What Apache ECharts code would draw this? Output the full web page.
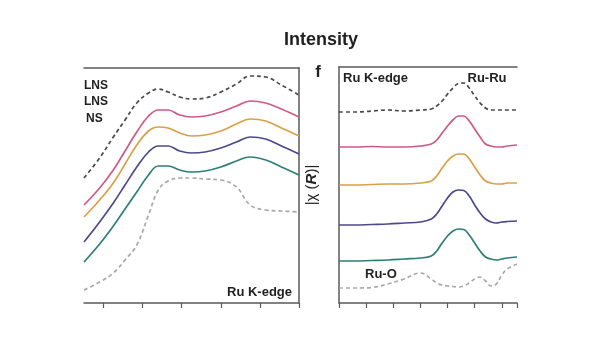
<!DOCTYPE html>
<html>
<head>
<meta charset="utf-8">
<script src="https://cdn.jsdelivr.net/npm/echarts@6/dist/echarts.min.js"></script>
<style>
html,body{margin:0;padding:0;background:#fff;}
#c{width:600px;height:338px;}
</style>
</head>
<body>
<div id="c"></div>
<script>
// ---- Panel e (XANES, Ru K-edge): energy (eV) vs normalized intensity (offset) ----
const energy = [22110, 22118, 22125, 22131, 22137, 22143, 22148, 22153, 22159, 22165, 22172, 22180, 22188, 22195, 22203, 22211, 22220];
const xanesRefTop   = [1.25, 1.45, 1.66, 1.83, 2.00, 2.10, 2.14, 2.11, 2.06, 2.04, 2.05, 2.11, 2.19, 2.27, 2.26, 2.18, 2.08];
const xanesPink     = [0.98, 1.15, 1.33, 1.52, 1.71, 1.87, 1.93, 1.93, 1.88, 1.86, 1.87, 1.91, 1.97, 2.02, 2.00, 1.94, 1.86];
const xanesOrange   = [0.86, 1.03, 1.20, 1.39, 1.58, 1.72, 1.76, 1.75, 1.70, 1.67, 1.68, 1.72, 1.79, 1.84, 1.82, 1.75, 1.67];
const xanesPurple   = [0.61, 0.81, 1.00, 1.18, 1.36, 1.51, 1.57, 1.57, 1.52, 1.50, 1.51, 1.55, 1.61, 1.66, 1.64, 1.57, 1.49];
const xanesTeal     = [0.41, 0.59, 0.77, 0.94, 1.11, 1.28, 1.37, 1.37, 1.33, 1.31, 1.32, 1.36, 1.42, 1.46, 1.43, 1.36, 1.28];
const xanesRefBot   = [0.13, 0.21, 0.30, 0.43, 0.58, 0.88, 1.13, 1.22, 1.25, 1.25, 1.24, 1.23, 1.16, 0.98, 0.93, 0.92, 0.91];
const xanesTicks    = [22120, 22140, 22160, 22180, 22200, 22220];
const legendLabels  = ['LNS', 'LNS', 'NS'];

// ---- Panel f (EXAFS, |chi(R)|): R (Å) vs magnitude (offset) ----
const rValues     = [0, 0.3, 0.6, 0.9, 1.2, 1.5, 1.7, 1.8, 1.9, 2.0, 2.1, 2.2, 2.3, 2.4, 2.5, 2.6, 2.7, 2.8, 2.9, 3.0, 3.1, 3.28];
const exafsRefTop = [1.91, 1.91, 1.92, 1.93, 1.92, 1.93, 1.94, 1.97, 2.02, 2.09, 2.15, 2.195, 2.20, 2.15, 2.07, 2.00, 1.95, 1.93, 1.93, 1.93, 1.93, 1.93];
const exafsPink   = [1.56, 1.56, 1.565, 1.56, 1.56, 1.57, 1.59, 1.63, 1.70, 1.77, 1.83, 1.87, 1.87, 1.82, 1.74, 1.66, 1.59, 1.57, 1.56, 1.56, 1.57, 1.58];
const exafsOrange = [1.18, 1.18, 1.185, 1.19, 1.19, 1.20, 1.22, 1.27, 1.35, 1.42, 1.47, 1.49, 1.49, 1.44, 1.36, 1.28, 1.22, 1.20, 1.19, 1.19, 1.20, 1.20];
const exafsPurple = [0.78, 0.78, 0.785, 0.79, 0.80, 0.81, 0.84, 0.89, 0.97, 1.05, 1.11, 1.13, 1.125, 1.07, 0.98, 0.90, 0.84, 0.81, 0.80, 0.81, 0.815, 0.82];
const exafsTeal   = [0.42, 0.42, 0.425, 0.43, 0.44, 0.45, 0.47, 0.52, 0.60, 0.67, 0.72, 0.74, 0.735, 0.68, 0.60, 0.52, 0.46, 0.44, 0.43, 0.44, 0.45, 0.46];
const exafsRefBot = [0.15, 0.15, 0.155, 0.19, 0.24, 0.30, 0.24, 0.20, 0.18, 0.17, 0.165, 0.16, 0.17, 0.20, 0.24, 0.26, 0.22, 0.17, 0.19, 0.28, 0.34, 0.39];

const pair = (xs, ys) => xs.map((x, i) => [x, ys[i]]);

const colors = {
  refTop: '#4a4a4a', pink: '#cf5a86', orange: '#d9a04a', purple: '#4d4a8a', teal: '#2f7f77', refBot: '#a8a8a8'
};
const axisColor = '#5a5a5a';
const textColor = '#222';
const font = 'Liberation Sans, Arial, sans-serif';

function line(name, xIdx, yIdx, data, color, dashed) {
  return {
    name, type: 'line', xAxisIndex: xIdx, yAxisIndex: yIdx, data,
    smooth: 0.4, showSymbol: false, symbol: 'none', clip: true,
    lineStyle: { color, width: 1.7, type: dashed ? [4, 3] : 'solid' },
    emphasis: { disabled: true }, silent: true
  };
}

const chart = echarts.init(document.getElementById('c'), null, { renderer: 'canvas' });
chart.setOption({
  animation: false,
  backgroundColor: '#fff',
  textStyle: { fontFamily: font },
  grid: [
    { left: 84, top: 68, width: 215, height: 235 },
    { left: 339, top: 67, width: 178, height: 236 }
  ],
  xAxis: [
    { type: 'value', gridIndex: 0, min: 22110, max: 22220,
      axisLine: { show: true, onZero: false, lineStyle: { color: axisColor, width: 1.5 } },
      axisTick: { show: true, customValues: xanesTicks, length: 5, lineStyle: { color: axisColor, width: 1.2 } },
      axisLabel: { show: false }, splitLine: { show: false } },
    { type: 'value', gridIndex: 1, min: 0, max: 3.28, interval: 0.5,
      axisLine: { show: true, onZero: false, lineStyle: { color: axisColor, width: 1.5 } },
      axisTick: { show: true, length: 5, lineStyle: { color: axisColor, width: 1.2 } },
      axisLabel: { show: false }, splitLine: { show: false } },
    { type: 'value', gridIndex: 0, position: 'top', min: 22110, max: 22220,
      axisLine: { show: true, onZero: false, lineStyle: { color: axisColor, width: 1.5 } },
      axisTick: { show: false }, axisLabel: { show: false }, splitLine: { show: false } },
    { type: 'value', gridIndex: 1, position: 'top', min: 0, max: 3.28,
      axisLine: { show: true, onZero: false, lineStyle: { color: axisColor, width: 1.5 } },
      axisTick: { show: false }, axisLabel: { show: false }, splitLine: { show: false } }
  ],
  yAxis: [
    { type: 'value', gridIndex: 0, position: 'right', min: 0, max: 2.35,
      axisLine: { show: true, onZero: false, lineStyle: { color: axisColor, width: 1.5 } },
      axisTick: { show: false }, axisLabel: { show: false }, splitLine: { show: false } },
    { type: 'value', gridIndex: 1, position: 'left', min: 0, max: 2.36,
      name: '|χ ({r|R})|', nameLocation: 'middle', nameGap: 20, nameRotate: 90,
      nameTextStyle: { fontSize: 15, color: textColor, fontFamily: font, fontWeight: 'normal',
        rich: { r: { fontSize: 15, fontStyle: 'italic', fontWeight: 'bold', color: textColor, fontFamily: font } } },
      axisLine: { show: true, onZero: false, lineStyle: { color: axisColor, width: 1.5 } },
      axisTick: { show: false }, axisLabel: { show: false }, splitLine: { show: false } }
  ],
  series: [
    line('ref-top-e', 0, 0, pair(energy, xanesRefTop), colors.refTop, true),
    line('pink-e', 0, 0, pair(energy, xanesPink), colors.pink, false),
    line('orange-e', 0, 0, pair(energy, xanesOrange), colors.orange, false),
    line('purple-e', 0, 0, pair(energy, xanesPurple), colors.purple, false),
    line('teal-e', 0, 0, pair(energy, xanesTeal), colors.teal, false),
    line('ref-bot-e', 0, 0, pair(energy, xanesRefBot), colors.refBot, true),
    line('ref-top-f', 1, 1, pair(rValues, exafsRefTop), colors.refTop, true),
    line('pink-f', 1, 1, pair(rValues, exafsPink), colors.pink, false),
    line('orange-f', 1, 1, pair(rValues, exafsOrange), colors.orange, false),
    line('purple-f', 1, 1, pair(rValues, exafsPurple), colors.purple, false),
    line('teal-f', 1, 1, pair(rValues, exafsTeal), colors.teal, false),
    line('ref-bot-f', 1, 1, pair(rValues, exafsRefBot), colors.refBot, true)
  ],
  graphic: [
    { type: 'text', x: 321, y: 40, style: { text: 'Intensity', font: 'bold 18px ' + font, fill: textColor, align: 'center', verticalAlign: 'middle' } },
    { type: 'text', x: 318, y: 72, style: { text: 'f', font: 'bold 17px ' + font, fill: textColor, align: 'center', verticalAlign: 'middle' } },
    { type: 'text', x: 84, y: 86, style: { text: legendLabels[0], font: 'bold 12px ' + font, fill: textColor, align: 'left', verticalAlign: 'middle' } },
    { type: 'text', x: 84, y: 102, style: { text: legendLabels[1], font: 'bold 12px ' + font, fill: textColor, align: 'left', verticalAlign: 'middle' } },
    { type: 'text', x: 86, y: 118.5, style: { text: legendLabels[2], font: 'bold 12px ' + font, fill: textColor, align: 'left', verticalAlign: 'middle' } },
    { type: 'text', x: 292, y: 292, style: { text: 'Ru K-edge', font: 'bold 13px ' + font, fill: textColor, align: 'right', verticalAlign: 'middle' } },
    { type: 'text', x: 343, y: 78, style: { text: 'Ru K-edge', font: 'bold 13px ' + font, fill: textColor, align: 'left', verticalAlign: 'middle' } },
    { type: 'text', x: 487, y: 78, style: { text: 'Ru-Ru', font: 'bold 13px ' + font, fill: textColor, align: 'center', verticalAlign: 'middle' } },
    { type: 'text', x: 365, y: 274, style: { text: 'Ru-O', font: 'bold 13px ' + font, fill: textColor, align: 'left', verticalAlign: 'middle' } }
  ]
});
</script>
</body>
</html>
